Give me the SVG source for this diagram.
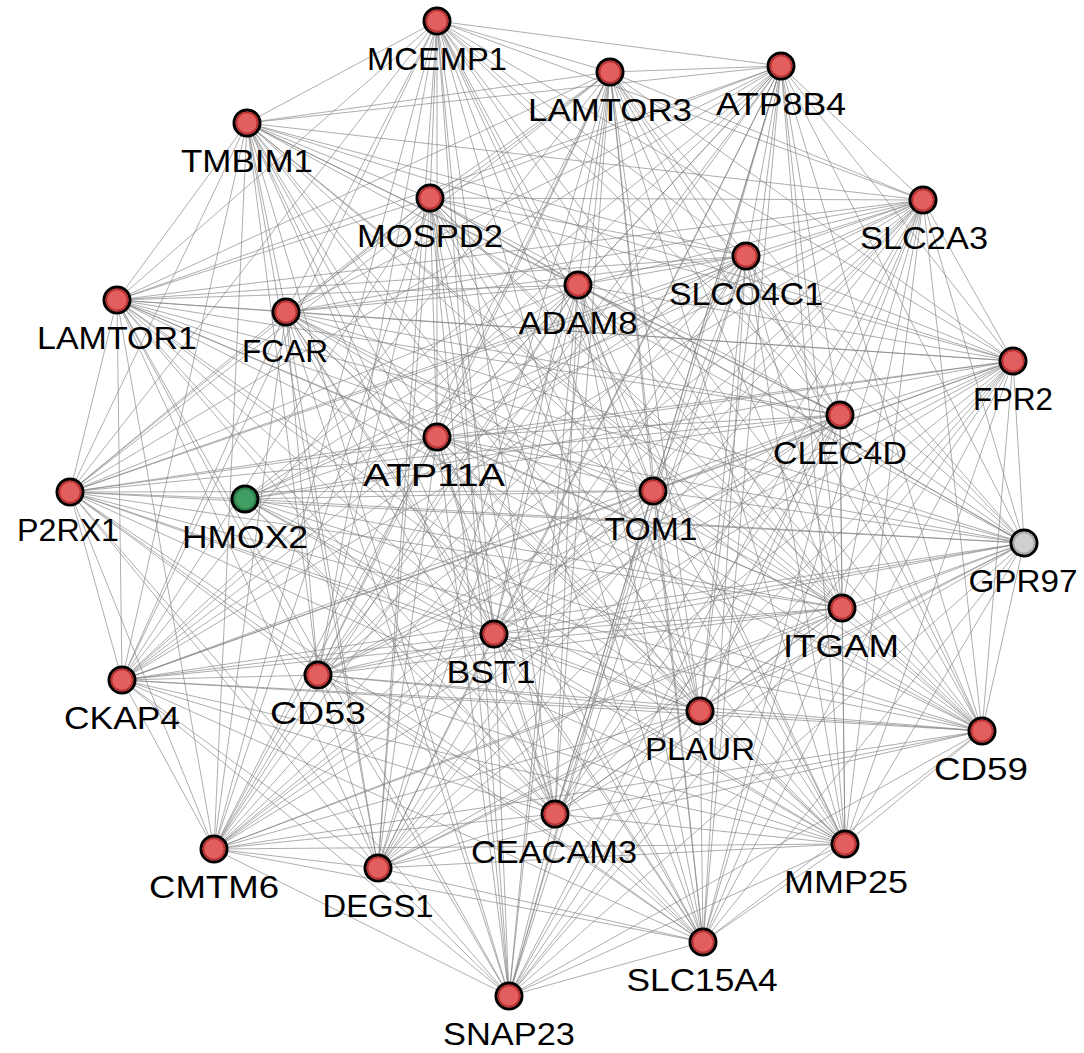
<svg xmlns="http://www.w3.org/2000/svg" width="1084" height="1053" viewBox="0 0 1084 1053">
<style>
.e line{stroke:#808080;stroke-width:0.8;stroke-opacity:0.8}
.n circle.o{stroke:#000;stroke-width:3}
.n circle.i{fill:none;stroke-width:1.6}
.red circle.o{fill:#e35f5f}
.red circle.i{stroke:#b83030}
.grn circle.o{fill:#3f9e62}
.grn circle.i{stroke:#2a7a48}
.gry circle.o{fill:#cfcfcf}
.gry circle.i{stroke:#a5a5a5}
text{font-family:"Liberation Sans",Arial,Helvetica,sans-serif;font-size:32px;text-anchor:middle;fill:#000}
</style>
<rect width="1084" height="1053" fill="#fff"/>
<g id="connectors" class="e">
<line x1="437" y1="21" x2="610" y2="72"/><line x1="437" y1="21" x2="781" y2="66"/><line x1="437" y1="21" x2="247" y2="123"/><line x1="437" y1="21" x2="923" y2="200"/><line x1="437" y1="21" x2="430" y2="198"/><line x1="437" y1="21" x2="746" y2="256"/><line x1="437" y1="21" x2="578" y2="285"/><line x1="437" y1="21" x2="117" y2="300"/><line x1="437" y1="21" x2="286" y2="312"/><line x1="437" y1="21" x2="1013" y2="361"/><line x1="437" y1="21" x2="840" y2="415"/><line x1="437" y1="21" x2="437" y2="437"/><line x1="437" y1="21" x2="70" y2="492"/><line x1="437" y1="21" x2="653" y2="491"/><line x1="437" y1="21" x2="1024" y2="543"/><line x1="437" y1="21" x2="842" y2="608"/><line x1="437" y1="21" x2="494" y2="634"/><line x1="437" y1="21" x2="122" y2="680"/><line x1="437" y1="21" x2="318" y2="675"/><line x1="437" y1="21" x2="700" y2="711"/><line x1="437" y1="21" x2="982" y2="731"/><line x1="437" y1="21" x2="555" y2="814"/><line x1="437" y1="21" x2="214" y2="849"/><line x1="437" y1="21" x2="378" y2="868"/><line x1="437" y1="21" x2="845" y2="844"/><line x1="437" y1="21" x2="703" y2="942"/><line x1="437" y1="21" x2="509" y2="996"/>
<line x1="610" y1="72" x2="781" y2="66"/><line x1="610" y1="72" x2="247" y2="123"/><line x1="610" y1="72" x2="923" y2="200"/><line x1="610" y1="72" x2="430" y2="198"/><line x1="610" y1="72" x2="746" y2="256"/><line x1="610" y1="72" x2="578" y2="285"/><line x1="610" y1="72" x2="117" y2="300"/><line x1="610" y1="72" x2="286" y2="312"/><line x1="610" y1="72" x2="1013" y2="361"/><line x1="610" y1="72" x2="840" y2="415"/><line x1="610" y1="72" x2="437" y2="437"/><line x1="610" y1="72" x2="70" y2="492"/><line x1="610" y1="72" x2="653" y2="491"/><line x1="610" y1="72" x2="1024" y2="543"/><line x1="610" y1="72" x2="842" y2="608"/><line x1="610" y1="72" x2="494" y2="634"/><line x1="610" y1="72" x2="122" y2="680"/><line x1="610" y1="72" x2="318" y2="675"/><line x1="610" y1="72" x2="700" y2="711"/><line x1="610" y1="72" x2="982" y2="731"/><line x1="610" y1="72" x2="555" y2="814"/><line x1="610" y1="72" x2="214" y2="849"/><line x1="610" y1="72" x2="378" y2="868"/><line x1="610" y1="72" x2="845" y2="844"/><line x1="610" y1="72" x2="703" y2="942"/><line x1="610" y1="72" x2="509" y2="996"/>
<line x1="781" y1="66" x2="247" y2="123"/><line x1="781" y1="66" x2="923" y2="200"/><line x1="781" y1="66" x2="430" y2="198"/><line x1="781" y1="66" x2="746" y2="256"/><line x1="781" y1="66" x2="578" y2="285"/><line x1="781" y1="66" x2="117" y2="300"/><line x1="781" y1="66" x2="286" y2="312"/><line x1="781" y1="66" x2="1013" y2="361"/><line x1="781" y1="66" x2="840" y2="415"/><line x1="781" y1="66" x2="437" y2="437"/><line x1="781" y1="66" x2="70" y2="492"/><line x1="781" y1="66" x2="245" y2="499"/><line x1="781" y1="66" x2="653" y2="491"/><line x1="781" y1="66" x2="1024" y2="543"/><line x1="781" y1="66" x2="842" y2="608"/><line x1="781" y1="66" x2="494" y2="634"/><line x1="781" y1="66" x2="122" y2="680"/><line x1="781" y1="66" x2="318" y2="675"/><line x1="781" y1="66" x2="700" y2="711"/><line x1="781" y1="66" x2="982" y2="731"/><line x1="781" y1="66" x2="555" y2="814"/><line x1="781" y1="66" x2="214" y2="849"/><line x1="781" y1="66" x2="378" y2="868"/><line x1="781" y1="66" x2="845" y2="844"/><line x1="781" y1="66" x2="703" y2="942"/><line x1="781" y1="66" x2="509" y2="996"/>
<line x1="247" y1="123" x2="923" y2="200"/><line x1="247" y1="123" x2="430" y2="198"/><line x1="247" y1="123" x2="746" y2="256"/><line x1="247" y1="123" x2="578" y2="285"/><line x1="247" y1="123" x2="117" y2="300"/><line x1="247" y1="123" x2="286" y2="312"/><line x1="247" y1="123" x2="1013" y2="361"/><line x1="247" y1="123" x2="840" y2="415"/><line x1="247" y1="123" x2="437" y2="437"/><line x1="247" y1="123" x2="70" y2="492"/><line x1="247" y1="123" x2="653" y2="491"/><line x1="247" y1="123" x2="1024" y2="543"/><line x1="247" y1="123" x2="842" y2="608"/><line x1="247" y1="123" x2="494" y2="634"/><line x1="247" y1="123" x2="122" y2="680"/><line x1="247" y1="123" x2="318" y2="675"/><line x1="247" y1="123" x2="700" y2="711"/><line x1="247" y1="123" x2="982" y2="731"/><line x1="247" y1="123" x2="555" y2="814"/><line x1="247" y1="123" x2="214" y2="849"/><line x1="247" y1="123" x2="378" y2="868"/><line x1="247" y1="123" x2="845" y2="844"/><line x1="247" y1="123" x2="703" y2="942"/><line x1="247" y1="123" x2="509" y2="996"/>
<line x1="923" y1="200" x2="430" y2="198"/><line x1="923" y1="200" x2="746" y2="256"/><line x1="923" y1="200" x2="578" y2="285"/><line x1="923" y1="200" x2="117" y2="300"/><line x1="923" y1="200" x2="286" y2="312"/><line x1="923" y1="200" x2="1013" y2="361"/><line x1="923" y1="200" x2="840" y2="415"/><line x1="923" y1="200" x2="437" y2="437"/><line x1="923" y1="200" x2="70" y2="492"/><line x1="923" y1="200" x2="245" y2="499"/><line x1="923" y1="200" x2="653" y2="491"/><line x1="923" y1="200" x2="1024" y2="543"/><line x1="923" y1="200" x2="842" y2="608"/><line x1="923" y1="200" x2="494" y2="634"/><line x1="923" y1="200" x2="122" y2="680"/><line x1="923" y1="200" x2="318" y2="675"/><line x1="923" y1="200" x2="700" y2="711"/><line x1="923" y1="200" x2="982" y2="731"/><line x1="923" y1="200" x2="555" y2="814"/><line x1="923" y1="200" x2="214" y2="849"/><line x1="923" y1="200" x2="378" y2="868"/><line x1="923" y1="200" x2="845" y2="844"/><line x1="923" y1="200" x2="703" y2="942"/><line x1="923" y1="200" x2="509" y2="996"/>
<line x1="430" y1="198" x2="746" y2="256"/><line x1="430" y1="198" x2="578" y2="285"/><line x1="430" y1="198" x2="117" y2="300"/><line x1="430" y1="198" x2="286" y2="312"/><line x1="430" y1="198" x2="1013" y2="361"/><line x1="430" y1="198" x2="840" y2="415"/><line x1="430" y1="198" x2="437" y2="437"/><line x1="430" y1="198" x2="70" y2="492"/><line x1="430" y1="198" x2="653" y2="491"/><line x1="430" y1="198" x2="1024" y2="543"/><line x1="430" y1="198" x2="842" y2="608"/><line x1="430" y1="198" x2="494" y2="634"/><line x1="430" y1="198" x2="122" y2="680"/><line x1="430" y1="198" x2="318" y2="675"/><line x1="430" y1="198" x2="700" y2="711"/><line x1="430" y1="198" x2="982" y2="731"/><line x1="430" y1="198" x2="555" y2="814"/><line x1="430" y1="198" x2="214" y2="849"/><line x1="430" y1="198" x2="378" y2="868"/><line x1="430" y1="198" x2="845" y2="844"/><line x1="430" y1="198" x2="703" y2="942"/><line x1="430" y1="198" x2="509" y2="996"/>
<line x1="746" y1="256" x2="578" y2="285"/><line x1="746" y1="256" x2="117" y2="300"/><line x1="746" y1="256" x2="286" y2="312"/><line x1="746" y1="256" x2="1013" y2="361"/><line x1="746" y1="256" x2="840" y2="415"/><line x1="746" y1="256" x2="437" y2="437"/><line x1="746" y1="256" x2="70" y2="492"/><line x1="746" y1="256" x2="245" y2="499"/><line x1="746" y1="256" x2="653" y2="491"/><line x1="746" y1="256" x2="1024" y2="543"/><line x1="746" y1="256" x2="842" y2="608"/><line x1="746" y1="256" x2="494" y2="634"/><line x1="746" y1="256" x2="122" y2="680"/><line x1="746" y1="256" x2="318" y2="675"/><line x1="746" y1="256" x2="700" y2="711"/><line x1="746" y1="256" x2="982" y2="731"/><line x1="746" y1="256" x2="555" y2="814"/><line x1="746" y1="256" x2="214" y2="849"/><line x1="746" y1="256" x2="378" y2="868"/><line x1="746" y1="256" x2="845" y2="844"/><line x1="746" y1="256" x2="703" y2="942"/><line x1="746" y1="256" x2="509" y2="996"/>
<line x1="578" y1="285" x2="117" y2="300"/><line x1="578" y1="285" x2="286" y2="312"/><line x1="578" y1="285" x2="1013" y2="361"/><line x1="578" y1="285" x2="840" y2="415"/><line x1="578" y1="285" x2="437" y2="437"/><line x1="578" y1="285" x2="70" y2="492"/><line x1="578" y1="285" x2="245" y2="499"/><line x1="578" y1="285" x2="653" y2="491"/><line x1="578" y1="285" x2="1024" y2="543"/><line x1="578" y1="285" x2="842" y2="608"/><line x1="578" y1="285" x2="494" y2="634"/><line x1="578" y1="285" x2="122" y2="680"/><line x1="578" y1="285" x2="318" y2="675"/><line x1="578" y1="285" x2="700" y2="711"/><line x1="578" y1="285" x2="982" y2="731"/><line x1="578" y1="285" x2="555" y2="814"/><line x1="578" y1="285" x2="214" y2="849"/><line x1="578" y1="285" x2="378" y2="868"/><line x1="578" y1="285" x2="845" y2="844"/><line x1="578" y1="285" x2="703" y2="942"/><line x1="578" y1="285" x2="509" y2="996"/>
<line x1="117" y1="300" x2="286" y2="312"/><line x1="117" y1="300" x2="1013" y2="361"/><line x1="117" y1="300" x2="840" y2="415"/><line x1="117" y1="300" x2="437" y2="437"/><line x1="117" y1="300" x2="70" y2="492"/><line x1="117" y1="300" x2="653" y2="491"/><line x1="117" y1="300" x2="1024" y2="543"/><line x1="117" y1="300" x2="842" y2="608"/><line x1="117" y1="300" x2="494" y2="634"/><line x1="117" y1="300" x2="122" y2="680"/><line x1="117" y1="300" x2="318" y2="675"/><line x1="117" y1="300" x2="700" y2="711"/><line x1="117" y1="300" x2="982" y2="731"/><line x1="117" y1="300" x2="555" y2="814"/><line x1="117" y1="300" x2="214" y2="849"/><line x1="117" y1="300" x2="378" y2="868"/><line x1="117" y1="300" x2="845" y2="844"/><line x1="117" y1="300" x2="703" y2="942"/><line x1="117" y1="300" x2="509" y2="996"/>
<line x1="286" y1="312" x2="1013" y2="361"/><line x1="286" y1="312" x2="840" y2="415"/><line x1="286" y1="312" x2="437" y2="437"/><line x1="286" y1="312" x2="70" y2="492"/><line x1="286" y1="312" x2="653" y2="491"/><line x1="286" y1="312" x2="1024" y2="543"/><line x1="286" y1="312" x2="842" y2="608"/><line x1="286" y1="312" x2="494" y2="634"/><line x1="286" y1="312" x2="122" y2="680"/><line x1="286" y1="312" x2="318" y2="675"/><line x1="286" y1="312" x2="700" y2="711"/><line x1="286" y1="312" x2="982" y2="731"/><line x1="286" y1="312" x2="555" y2="814"/><line x1="286" y1="312" x2="214" y2="849"/><line x1="286" y1="312" x2="378" y2="868"/><line x1="286" y1="312" x2="845" y2="844"/><line x1="286" y1="312" x2="703" y2="942"/><line x1="286" y1="312" x2="509" y2="996"/>
<line x1="1013" y1="361" x2="840" y2="415"/><line x1="1013" y1="361" x2="437" y2="437"/><line x1="1013" y1="361" x2="70" y2="492"/><line x1="1013" y1="361" x2="245" y2="499"/><line x1="1013" y1="361" x2="653" y2="491"/><line x1="1013" y1="361" x2="1024" y2="543"/><line x1="1013" y1="361" x2="842" y2="608"/><line x1="1013" y1="361" x2="494" y2="634"/><line x1="1013" y1="361" x2="122" y2="680"/><line x1="1013" y1="361" x2="318" y2="675"/><line x1="1013" y1="361" x2="700" y2="711"/><line x1="1013" y1="361" x2="982" y2="731"/><line x1="1013" y1="361" x2="555" y2="814"/><line x1="1013" y1="361" x2="214" y2="849"/><line x1="1013" y1="361" x2="378" y2="868"/><line x1="1013" y1="361" x2="845" y2="844"/><line x1="1013" y1="361" x2="703" y2="942"/><line x1="1013" y1="361" x2="509" y2="996"/>
<line x1="840" y1="415" x2="437" y2="437"/><line x1="840" y1="415" x2="70" y2="492"/><line x1="840" y1="415" x2="245" y2="499"/><line x1="840" y1="415" x2="653" y2="491"/><line x1="840" y1="415" x2="1024" y2="543"/><line x1="840" y1="415" x2="842" y2="608"/><line x1="840" y1="415" x2="494" y2="634"/><line x1="840" y1="415" x2="122" y2="680"/><line x1="840" y1="415" x2="318" y2="675"/><line x1="840" y1="415" x2="700" y2="711"/><line x1="840" y1="415" x2="982" y2="731"/><line x1="840" y1="415" x2="555" y2="814"/><line x1="840" y1="415" x2="214" y2="849"/><line x1="840" y1="415" x2="378" y2="868"/><line x1="840" y1="415" x2="845" y2="844"/><line x1="840" y1="415" x2="703" y2="942"/><line x1="840" y1="415" x2="509" y2="996"/>
<line x1="437" y1="437" x2="70" y2="492"/><line x1="437" y1="437" x2="245" y2="499"/><line x1="437" y1="437" x2="653" y2="491"/><line x1="437" y1="437" x2="1024" y2="543"/><line x1="437" y1="437" x2="842" y2="608"/><line x1="437" y1="437" x2="494" y2="634"/><line x1="437" y1="437" x2="122" y2="680"/><line x1="437" y1="437" x2="318" y2="675"/><line x1="437" y1="437" x2="700" y2="711"/><line x1="437" y1="437" x2="982" y2="731"/><line x1="437" y1="437" x2="555" y2="814"/><line x1="437" y1="437" x2="214" y2="849"/><line x1="437" y1="437" x2="378" y2="868"/><line x1="437" y1="437" x2="845" y2="844"/><line x1="437" y1="437" x2="703" y2="942"/><line x1="437" y1="437" x2="509" y2="996"/>
<line x1="70" y1="492" x2="245" y2="499"/><line x1="70" y1="492" x2="653" y2="491"/><line x1="70" y1="492" x2="1024" y2="543"/><line x1="70" y1="492" x2="842" y2="608"/><line x1="70" y1="492" x2="494" y2="634"/><line x1="70" y1="492" x2="122" y2="680"/><line x1="70" y1="492" x2="318" y2="675"/><line x1="70" y1="492" x2="700" y2="711"/><line x1="70" y1="492" x2="982" y2="731"/><line x1="70" y1="492" x2="555" y2="814"/><line x1="70" y1="492" x2="214" y2="849"/><line x1="70" y1="492" x2="378" y2="868"/><line x1="70" y1="492" x2="845" y2="844"/><line x1="70" y1="492" x2="703" y2="942"/><line x1="70" y1="492" x2="509" y2="996"/>
<line x1="245" y1="499" x2="653" y2="491"/><line x1="245" y1="499" x2="1024" y2="543"/><line x1="245" y1="499" x2="842" y2="608"/><line x1="245" y1="499" x2="494" y2="634"/><line x1="245" y1="499" x2="700" y2="711"/><line x1="245" y1="499" x2="982" y2="731"/><line x1="245" y1="499" x2="555" y2="814"/><line x1="245" y1="499" x2="845" y2="844"/><line x1="245" y1="499" x2="703" y2="942"/>
<line x1="653" y1="491" x2="1024" y2="543"/><line x1="653" y1="491" x2="842" y2="608"/><line x1="653" y1="491" x2="494" y2="634"/><line x1="653" y1="491" x2="122" y2="680"/><line x1="653" y1="491" x2="318" y2="675"/><line x1="653" y1="491" x2="700" y2="711"/><line x1="653" y1="491" x2="982" y2="731"/><line x1="653" y1="491" x2="555" y2="814"/><line x1="653" y1="491" x2="214" y2="849"/><line x1="653" y1="491" x2="378" y2="868"/><line x1="653" y1="491" x2="845" y2="844"/><line x1="653" y1="491" x2="703" y2="942"/><line x1="653" y1="491" x2="509" y2="996"/>
<line x1="1024" y1="543" x2="842" y2="608"/><line x1="1024" y1="543" x2="494" y2="634"/><line x1="1024" y1="543" x2="122" y2="680"/><line x1="1024" y1="543" x2="318" y2="675"/><line x1="1024" y1="543" x2="700" y2="711"/><line x1="1024" y1="543" x2="982" y2="731"/><line x1="1024" y1="543" x2="555" y2="814"/><line x1="1024" y1="543" x2="214" y2="849"/><line x1="1024" y1="543" x2="378" y2="868"/><line x1="1024" y1="543" x2="845" y2="844"/><line x1="1024" y1="543" x2="703" y2="942"/><line x1="1024" y1="543" x2="509" y2="996"/>
<line x1="842" y1="608" x2="494" y2="634"/><line x1="842" y1="608" x2="122" y2="680"/><line x1="842" y1="608" x2="318" y2="675"/><line x1="842" y1="608" x2="700" y2="711"/><line x1="842" y1="608" x2="982" y2="731"/><line x1="842" y1="608" x2="555" y2="814"/><line x1="842" y1="608" x2="214" y2="849"/><line x1="842" y1="608" x2="378" y2="868"/><line x1="842" y1="608" x2="845" y2="844"/><line x1="842" y1="608" x2="703" y2="942"/><line x1="842" y1="608" x2="509" y2="996"/>
<line x1="494" y1="634" x2="122" y2="680"/><line x1="494" y1="634" x2="318" y2="675"/><line x1="494" y1="634" x2="700" y2="711"/><line x1="494" y1="634" x2="982" y2="731"/><line x1="494" y1="634" x2="555" y2="814"/><line x1="494" y1="634" x2="214" y2="849"/><line x1="494" y1="634" x2="378" y2="868"/><line x1="494" y1="634" x2="845" y2="844"/><line x1="494" y1="634" x2="703" y2="942"/><line x1="494" y1="634" x2="509" y2="996"/>
<line x1="122" y1="680" x2="318" y2="675"/><line x1="122" y1="680" x2="700" y2="711"/><line x1="122" y1="680" x2="982" y2="731"/><line x1="122" y1="680" x2="555" y2="814"/><line x1="122" y1="680" x2="214" y2="849"/><line x1="122" y1="680" x2="378" y2="868"/><line x1="122" y1="680" x2="845" y2="844"/><line x1="122" y1="680" x2="703" y2="942"/><line x1="122" y1="680" x2="509" y2="996"/>
<line x1="318" y1="675" x2="700" y2="711"/><line x1="318" y1="675" x2="982" y2="731"/><line x1="318" y1="675" x2="555" y2="814"/><line x1="318" y1="675" x2="214" y2="849"/><line x1="318" y1="675" x2="378" y2="868"/><line x1="318" y1="675" x2="845" y2="844"/><line x1="318" y1="675" x2="703" y2="942"/><line x1="318" y1="675" x2="509" y2="996"/>
<line x1="700" y1="711" x2="982" y2="731"/><line x1="700" y1="711" x2="555" y2="814"/><line x1="700" y1="711" x2="214" y2="849"/><line x1="700" y1="711" x2="378" y2="868"/><line x1="700" y1="711" x2="845" y2="844"/><line x1="700" y1="711" x2="703" y2="942"/><line x1="700" y1="711" x2="509" y2="996"/>
<line x1="982" y1="731" x2="555" y2="814"/><line x1="982" y1="731" x2="214" y2="849"/><line x1="982" y1="731" x2="378" y2="868"/><line x1="982" y1="731" x2="845" y2="844"/><line x1="982" y1="731" x2="703" y2="942"/><line x1="982" y1="731" x2="509" y2="996"/>
<line x1="555" y1="814" x2="214" y2="849"/><line x1="555" y1="814" x2="378" y2="868"/><line x1="555" y1="814" x2="845" y2="844"/><line x1="555" y1="814" x2="703" y2="942"/><line x1="555" y1="814" x2="509" y2="996"/>
<line x1="214" y1="849" x2="378" y2="868"/><line x1="214" y1="849" x2="845" y2="844"/><line x1="214" y1="849" x2="703" y2="942"/><line x1="214" y1="849" x2="509" y2="996"/>
<line x1="378" y1="868" x2="845" y2="844"/><line x1="378" y1="868" x2="703" y2="942"/><line x1="378" y1="868" x2="509" y2="996"/>
<line x1="845" y1="844" x2="703" y2="942"/><line x1="845" y1="844" x2="509" y2="996"/>
<line x1="703" y1="942" x2="509" y2="996"/>
</g>
<g id="node-MCEMP1" class="n red"><circle class="o" cx="437" cy="21" r="13"/><circle class="i" cx="437" cy="21" r="10.5"/><text x="437" y="70" textLength="140" lengthAdjust="spacingAndGlyphs">MCEMP1</text></g>
<g id="node-LAMTOR3" class="n red"><circle class="o" cx="610" cy="72" r="13"/><circle class="i" cx="610" cy="72" r="10.5"/><text x="610" y="121" textLength="164" lengthAdjust="spacingAndGlyphs">LAMTOR3</text></g>
<g id="node-ATP8B4" class="n red"><circle class="o" cx="781" cy="66" r="13"/><circle class="i" cx="781" cy="66" r="10.5"/><text x="781" y="115" textLength="130" lengthAdjust="spacingAndGlyphs">ATP8B4</text></g>
<g id="node-TMBIM1" class="n red"><circle class="o" cx="247" cy="123" r="13"/><circle class="i" cx="247" cy="123" r="10.5"/><text x="247" y="172" textLength="132" lengthAdjust="spacingAndGlyphs">TMBIM1</text></g>
<g id="node-SLC2A3" class="n red"><circle class="o" cx="923" cy="200" r="13"/><circle class="i" cx="923" cy="200" r="10.5"/><text x="924" y="249" textLength="128" lengthAdjust="spacingAndGlyphs">SLC2A3</text></g>
<g id="node-MOSPD2" class="n red"><circle class="o" cx="430" cy="198" r="13"/><circle class="i" cx="430" cy="198" r="10.5"/><text x="430" y="247" textLength="146" lengthAdjust="spacingAndGlyphs">MOSPD2</text></g>
<g id="node-SLCO4C1" class="n red"><circle class="o" cx="746" cy="256" r="13"/><circle class="i" cx="746" cy="256" r="10.5"/><text x="746" y="305" textLength="154" lengthAdjust="spacingAndGlyphs">SLCO4C1</text></g>
<g id="node-ADAM8" class="n red"><circle class="o" cx="578" cy="285" r="13"/><circle class="i" cx="578" cy="285" r="10.5"/><text x="578" y="334" textLength="119" lengthAdjust="spacingAndGlyphs">ADAM8</text></g>
<g id="node-LAMTOR1" class="n red"><circle class="o" cx="117" cy="300" r="13"/><circle class="i" cx="117" cy="300" r="10.5"/><text x="117" y="349" textLength="160" lengthAdjust="spacingAndGlyphs">LAMTOR1</text></g>
<g id="node-FCAR" class="n red"><circle class="o" cx="286" cy="312" r="13"/><circle class="i" cx="286" cy="312" r="10.5"/><text x="285" y="362" textLength="86" lengthAdjust="spacingAndGlyphs">FCAR</text></g>
<g id="node-FPR2" class="n red"><circle class="o" cx="1013" cy="361" r="13"/><circle class="i" cx="1013" cy="361" r="10.5"/><text x="1013" y="410" textLength="80" lengthAdjust="spacingAndGlyphs">FPR2</text></g>
<g id="node-CLEC4D" class="n red"><circle class="o" cx="840" cy="415" r="13"/><circle class="i" cx="840" cy="415" r="10.5"/><text x="840" y="464" textLength="134" lengthAdjust="spacingAndGlyphs">CLEC4D</text></g>
<g id="node-ATP11A" class="n red"><circle class="o" cx="437" cy="437" r="13"/><circle class="i" cx="437" cy="437" r="10.5"/><text x="434" y="486" textLength="142" lengthAdjust="spacingAndGlyphs">ATP11A</text></g>
<g id="node-P2RX1" class="n red"><circle class="o" cx="70" cy="492" r="13"/><circle class="i" cx="70" cy="492" r="10.5"/><text x="68" y="541" textLength="102" lengthAdjust="spacingAndGlyphs">P2RX1</text></g>
<g id="node-HMOX2" class="n grn"><circle class="o" cx="245" cy="499" r="13"/><circle class="i" cx="245" cy="499" r="10.5"/><text x="245" y="548" textLength="126" lengthAdjust="spacingAndGlyphs">HMOX2</text></g>
<g id="node-TOM1" class="n red"><circle class="o" cx="653" cy="491" r="13"/><circle class="i" cx="653" cy="491" r="10.5"/><text x="651" y="540" textLength="93" lengthAdjust="spacingAndGlyphs">TOM1</text></g>
<g id="node-GPR97" class="n gry"><circle class="o" cx="1024" cy="543" r="13"/><circle class="i" cx="1024" cy="543" r="10.5"/><text x="1023" y="592" textLength="109" lengthAdjust="spacingAndGlyphs">GPR97</text></g>
<g id="node-ITGAM" class="n red"><circle class="o" cx="842" cy="608" r="13"/><circle class="i" cx="842" cy="608" r="10.5"/><text x="841" y="657" textLength="116" lengthAdjust="spacingAndGlyphs">ITGAM</text></g>
<g id="node-BST1" class="n red"><circle class="o" cx="494" cy="634" r="13"/><circle class="i" cx="494" cy="634" r="10.5"/><text x="491" y="683" textLength="89" lengthAdjust="spacingAndGlyphs">BST1</text></g>
<g id="node-CKAP4" class="n red"><circle class="o" cx="122" cy="680" r="13"/><circle class="i" cx="122" cy="680" r="10.5"/><text x="122" y="729" textLength="116" lengthAdjust="spacingAndGlyphs">CKAP4</text></g>
<g id="node-CD53" class="n red"><circle class="o" cx="318" cy="675" r="13"/><circle class="i" cx="318" cy="675" r="10.5"/><text x="318" y="724" textLength="96" lengthAdjust="spacingAndGlyphs">CD53</text></g>
<g id="node-PLAUR" class="n red"><circle class="o" cx="700" cy="711" r="13"/><circle class="i" cx="700" cy="711" r="10.5"/><text x="700" y="760" textLength="110" lengthAdjust="spacingAndGlyphs">PLAUR</text></g>
<g id="node-CD59" class="n red"><circle class="o" cx="982" cy="731" r="13"/><circle class="i" cx="982" cy="731" r="10.5"/><text x="981" y="780" textLength="94" lengthAdjust="spacingAndGlyphs">CD59</text></g>
<g id="node-CEACAM3" class="n red"><circle class="o" cx="555" cy="814" r="13"/><circle class="i" cx="555" cy="814" r="10.5"/><text x="554" y="863" textLength="166" lengthAdjust="spacingAndGlyphs">CEACAM3</text></g>
<g id="node-CMTM6" class="n red"><circle class="o" cx="214" cy="849" r="13"/><circle class="i" cx="214" cy="849" r="10.5"/><text x="214" y="898" textLength="130" lengthAdjust="spacingAndGlyphs">CMTM6</text></g>
<g id="node-DEGS1" class="n red"><circle class="o" cx="378" cy="868" r="13"/><circle class="i" cx="378" cy="868" r="10.5"/><text x="378" y="917" textLength="111" lengthAdjust="spacingAndGlyphs">DEGS1</text></g>
<g id="node-MMP25" class="n red"><circle class="o" cx="845" cy="844" r="13"/><circle class="i" cx="845" cy="844" r="10.5"/><text x="846" y="893" textLength="124" lengthAdjust="spacingAndGlyphs">MMP25</text></g>
<g id="node-SLC15A4" class="n red"><circle class="o" cx="703" cy="942" r="13"/><circle class="i" cx="703" cy="942" r="10.5"/><text x="702" y="991" textLength="151" lengthAdjust="spacingAndGlyphs">SLC15A4</text></g>
<g id="node-SNAP23" class="n red"><circle class="o" cx="509" cy="996" r="13"/><circle class="i" cx="509" cy="996" r="10.5"/><text x="509" y="1045" textLength="132" lengthAdjust="spacingAndGlyphs">SNAP23</text></g>
</svg>
